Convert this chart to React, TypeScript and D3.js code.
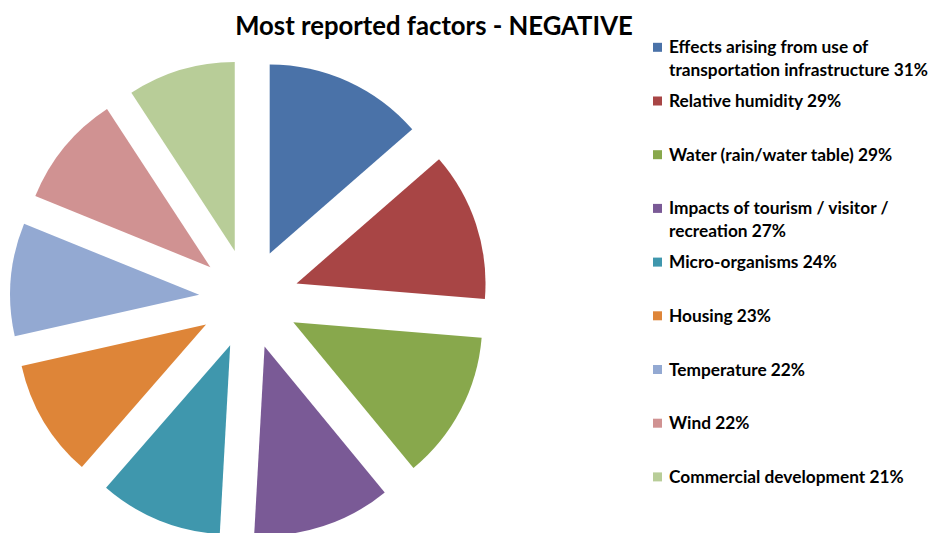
import React from "react";
import * as d3 from "d3";

const categories = [
  ["Effects arising from use of", "transportation infrastructure 31%"],
  ["Relative humidity 29%"],
  ["Water (rain/water table) 29%"],
  ["Impacts of tourism / visitor /", "recreation 27%"],
  ["Micro-organisms 24%"],
  ["Housing 23%"],
  ["Temperature 22%"],
  ["Wind 22%"],
  ["Commercial development 21%"],
];
const values = [31, 29, 29, 27, 24, 23, 22, 22, 21];
const colors = [
  "#4A72A8",
  "#A84545",
  "#88A84C",
  "#7A5A96",
  "#3F97AD",
  "#DE8538",
  "#93A9D2",
  "#D09292",
  "#B8CD98",
];
const title = "Most reported factors - NEGATIVE";

export default function App() {
  const W = 934;
  const H = 533;
  const cx = 249;
  const cy = 299;
  const r = 189;
  const explode = 50;
  const pie = d3.pie<number>().sort(null).value((d) => d)(values);
  const arc = d3.arc<d3.PieArcDatum<number>>().innerRadius(0).outerRadius(r);
  const font = "Lato, 'Open Sans', sans-serif";
  return (
    <svg
      width={W}
      height={H}
      style={{ position: "absolute", left: 0, top: 0, background: "#fff" }}
    >
      <g transform={`translate(${cx},${cy})`}>
        {pie.map((p, i) => {
          const mid = (p.startAngle + p.endAngle) / 2;
          const dx = Math.sin(mid) * explode;
          const dy = -Math.cos(mid) * explode;
          return (
            <path
              key={i}
              d={arc(p) || ""}
              fill={colors[i]}
              transform={`translate(${dx},${dy})`}
            />
          );
        })}
      </g>
      <text
        x={434}
        y={35}
        textAnchor="middle"
        fontFamily={font}
        fontWeight="bold"
        fontSize={25.7}
        fill="#000"
      >
        {title}
      </text>
      <g fontFamily={font} fontWeight="bold" fontSize={17.3} fill="#000">
        {categories.map((lines, i) => {
          const y0 = 47.3 + i * 53.7;
          return (
            <g key={i}>
              <rect x={653} y={y0 - 4.5} width={9} height={9} fill={colors[i]} />
              {lines.map((t, j) => (
                <text key={j} x={669} y={y0 + j * 23} dy="0.35em">
                  {t}
                </text>
              ))}
            </g>
          );
        })}
      </g>
    </svg>
  );
}
